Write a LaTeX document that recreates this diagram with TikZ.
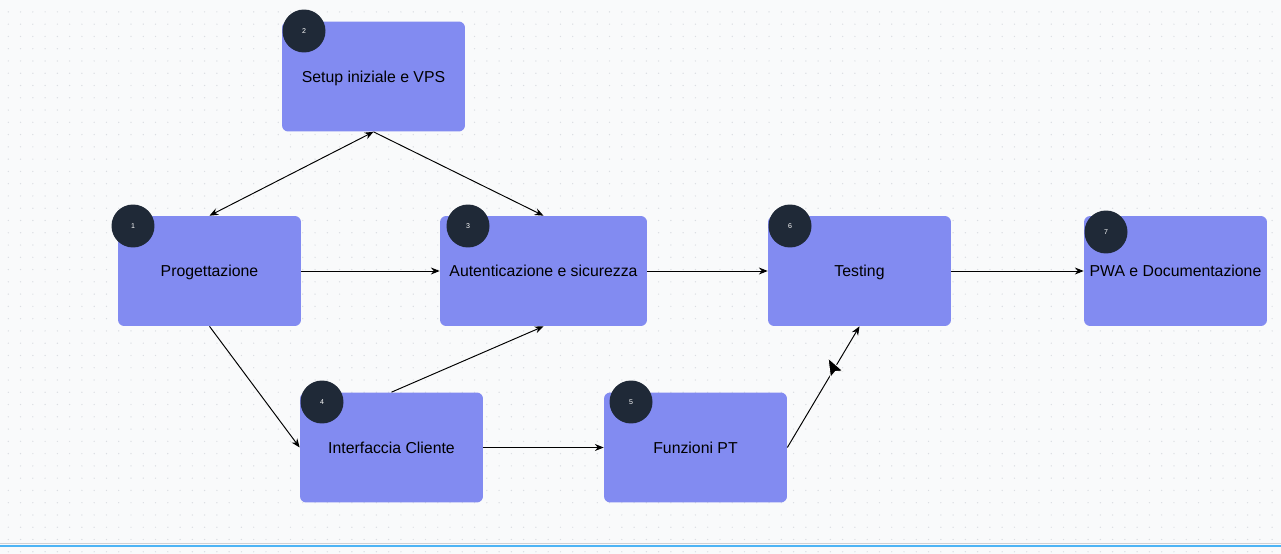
\documentclass[tikz,border=0pt]{standalone}
\usepackage{fontspec}
\setmainfont{Liberation Sans}
\usetikzlibrary{arrows.meta, positioning}
\definecolor{canvas}{HTML}{F9FAFB}
\definecolor{griddot}{HTML}{DADDE2}
\definecolor{boxfill}{HTML}{828BF1}
\definecolor{badge}{HTML}{1F2937}
\definecolor{rulegray}{HTML}{CFD1D5}
\definecolor{ruleblue}{HTML}{4DB4F5}
\tikzset{
  phase/.style={rectangle, fill=boxfill, rounded corners=3.5pt,
                minimum width=3.66cm, minimum height=2.2cm,
                inner sep=0pt, text height=6.5pt, text depth=0pt,
                font=\fontsize{9}{10}\selectfont},
  widephase/.style={phase, minimum width=4.14cm},
  num/.style={circle, fill=badge, minimum size=0.86cm, inner sep=0pt,
              text=white, font=\fontsize{4}{4}\selectfont},
  arr/.style={-{Stealth[length=5pt, width=4pt]}, line width=0.55pt},
  biarr/.style={{Stealth[length=5pt, width=4pt]}-{Stealth[length=5pt, width=4pt]}, line width=0.55pt},
}

\begin{document}
\begin{tikzpicture}[x=0.02cm, y=-0.02cm]
  % canvas
  \fill[canvas] (0,0) rectangle (1281,554);
  \useasboundingbox (0,0) rectangle (1281,554);
  \foreach \i in {0,...,104}
    \foreach \j in {0,...,44}
      \fill[griddot] (8.3+\i*12.27, 11.9+\j*12.27) circle (0.7);
  \draw[rulegray, line width=0.6pt] (0,543.6) -- (1281,543.6);
  \draw[ruleblue, line width=0.9pt] (0,546.2) -- (1281,546.2);

  % phases
  \node[phase] (setup) at (373.5,76.5) {Setup iniziale e VPS};
  \node[phase] (prog)  at (209.5,271)  {Progettazione};
  \node[widephase] (auth) at (543.5,271) {Autenticazione e sicurezza};
  \node[phase] (test)  at (859.5,271)  {Testing};
  \node[phase] (pwa)   at (1175.5,271) {PWA e Documentazione};
  \node[phase] (ui)    at (391.5,447.5) {Interfaccia Cliente};
  \node[phase] (pt)    at (695.5,447.5) {Funzioni PT};

  % step numbers
  \node[num] (n1) at (133,226) {1};
  \node[num] (n2) at (304,31)  {2};
  \node[num] (n3) at (468,226) {3};
  \node[num] (n4) at (322,402) {4};
  \node[num] (n5) at (631,402) {5};
  \node[num] (n6) at (790,226) {6};
  \node[num] (n7) at (1106,232) {7};

  % dependencies
  \draw[biarr] (prog.north) -- (setup.south);
  \draw[arr] (setup.south) -- (auth.north);
  \draw[arr] (prog.east) -- (auth.west);
  \draw[arr] (prog.south) -- (ui.west);
  \draw[arr] (ui.north) -- (auth.south);
  \draw[arr] (ui.east) -- (pt.west);
  \draw[arr] (pt.east) -- (test.south);
  \draw[arr] (auth.east) -- (test.west);
  \draw[arr] (test.east) -- (pwa.west);

  % pointer
  \filldraw[fill=black, draw=white, line width=0.5pt, line join=round]
    (828,358) -- (843,371) -- (835.5,371.5) -- (830.5,377.5) -- cycle;
\end{tikzpicture}
\end{document}
